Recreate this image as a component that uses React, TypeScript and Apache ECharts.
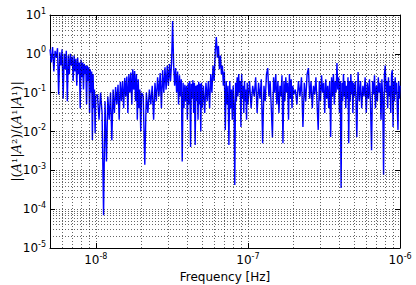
import React, { useEffect, useRef } from "react";
import * as echarts from "echarts";

// Frequencies in nHz (segments), values of |<A1|A2>/<A1|A1>|
const freqA = [5.0, 5.1, 5.2, 5.3, 5.4, 5.5, 5.6, 5.7, 5.8, 5.9, 6.0, 6.1, 6.2, 6.3, 6.4, 6.5, 6.6, 6.7, 6.8, 6.9, 7.0, 7.1, 7.2, 7.3, 7.4, 7.5, 7.6, 7.7, 7.8, 7.9, 8.0, 8.1, 8.2, 8.3, 8.4, 8.5, 8.6, 8.7, 8.8, 8.9, 9.0, 9.1, 9.2, 9.3, 9.4, 9.5, 9.6, 9.7, 9.8, 9.9, 10.0];
const valA = [1.3, 0.6, 1.5, 0.35, 1.2, 0.8, 1.4, 0.09, 1.1, 0.5, 1.3, 0.07, 1.0, 0.4, 1.2, 0.06, 0.9, 0.3, 1.0, 0.5, 0.85, 0.2, 0.9, 0.35, 0.75, 0.15, 0.8, 0.3, 0.6, 0.04, 0.7, 0.25, 0.6, 0.12, 0.55, 0.3, 0.5, 0.05, 0.5, 0.2, 0.45, 0.03, 0.4, 0.1, 0.35, 0.006, 0.3, 0.04, 0.12, 0.009, 0.08];

const freqB = [10.25, 10.5, 10.75, 11, 11.25, 11.5, 11.75, 12, 12.25, 12.5, 12.75, 13, 13.25, 13.5, 13.75, 14, 14.25, 14.5, 14.75, 15, 15.25, 15.5, 15.75, 16, 16.25, 16.5, 16.75, 17, 17.25, 17.5, 17.75, 18, 18.25, 18.5, 18.75, 19, 19.25, 19.5, 19.75, 20];
const valB = [0.09, 0.02, 0.1, 0.03, 0.00007, 0.06, 0.0017, 0.08, 0.02, 0.1, 0.006, 0.12, 0.03, 0.14, 0.05, 0.16, 0.02, 0.19, 0.06, 0.2, 0.04, 0.24, 0.08, 0.26, 0.03, 0.3, 0.1, 0.33, 0.05, 0.4, 0.12, 0.36, 0.06, 0.3, 0.02, 0.22, 0.04, 0.12, 0.01, 0.1];

const freqC = [20.5, 21, 21.5, 22, 22.5, 23, 23.5, 24, 24.5, 25, 25.5, 26, 26.5, 27, 27.5, 28, 28.5, 29, 29.5, 30, 30.5, 31, 31.5, 32, 32.5, 33, 33.5, 34, 34.5, 35, 35.5, 36, 36.5, 37, 37.5, 38, 38.5, 39, 39.5, 40, 40.5, 41, 41.5, 42, 42.5, 43, 43.5, 44, 44.5, 45, 45.5, 46, 46.5, 47, 47.5, 48, 48.5, 49, 49.5, 50];
const valC = [0.08, 0.0014, 0.1, 0.03, 0.12, 0.05, 0.15, 0.02, 0.18, 0.06, 0.25, 0.08, 0.32, 0.04, 0.38, 0.1, 0.45, 0.12, 0.5, 0.15, 0.55, 0.2, 0.6, 7.0, 0.5, 0.15, 0.43, 0.1, 0.35, 0.05, 0.28, 0.08, 0.22, 0.0017, 0.18, 0.04, 0.16, 0.06, 0.15, 0.02, 0.18, 0.05, 0.2, 0.004, 0.17, 0.07, 0.21, 0.03, 0.18, 0.0045, 0.15, 0.06, 0.16, 0.02, 0.19, 0.05, 0.17, 0.01, 0.18, 0.04];

const freqD = [51, 52, 53, 54, 55, 56, 57, 58, 59, 60, 61, 62, 63, 64, 65, 66, 67, 68, 69, 70, 71, 72, 73, 74, 75, 76, 77, 78, 79, 80, 81, 82, 83, 84, 85, 86, 87, 88, 89, 90, 91, 92, 93, 94, 95, 96, 97, 98, 99, 100];
const valD = [0.15, 0.03, 0.18, 0.06, 0.2, 0.04, 0.3, 0.1, 0.5, 0.2, 1.2, 2.7, 0.8, 1.6, 0.4, 0.9, 0.3, 0.5, 0.15, 0.35, 0.011, 0.2, 0.05, 0.15, 0.0045, 0.2, 0.04, 0.12, 0.02, 0.15, 0.05, 0.00042, 0.18, 0.06, 0.25, 0.08, 0.3, 0.1, 0.2, 0.013, 0.3, 0.07, 0.15, 0.03, 0.2, 0.06, 0.12, 0.02, 0.18, 0.05];

const freqE = [102.5, 105, 107.5, 110, 112.5, 115, 117.5, 120, 122.5, 125, 127.5, 130, 132.5, 135, 137.5, 140, 142.5, 145, 147.5, 150, 152.5, 155, 157.5, 160, 162.5, 165, 167.5, 170, 172.5, 175, 177.5, 180, 182.5, 185, 187.5, 190, 192.5, 195, 197.5, 200];
const valE = [0.2, 0.04, 0.15, 0.08, 0.25, 0.03, 0.18, 0.07, 0.22, 0.005, 0.15, 0.06, 0.3, 0.43, 0.08, 0.2, 0.04, 0.007, 0.25, 0.1, 0.3, 0.05, 0.2, 0.03, 0.15, 0.08, 0.28, 0.005, 0.2, 0.06, 0.25, 0.1, 0.18, 0.02, 0.3, 0.07, 0.22, 0.04, 0.15, 0.09];

const freqF = [205, 210, 215, 220, 225, 230, 235, 240, 245, 250, 255, 260, 265, 270, 275, 280, 285, 290, 295, 300, 305, 310, 315, 320, 325, 330, 335, 340, 345, 350, 355, 360, 365, 370, 375, 380, 385, 390, 395, 400, 405, 410, 415, 420, 425, 430, 435, 440, 445, 450, 455, 460, 465, 470, 475, 480, 485, 490, 495, 500];
const valF = [0.12, 0.05, 0.2, 0.08, 0.25, 0.013, 0.18, 0.06, 0.3, 0.43, 0.07, 0.2, 0.04, 0.15, 0.09, 0.25, 0.05, 0.011, 0.2, 0.06, 0.28, 0.1, 0.18, 0.03, 0.22, 0.07, 0.15, 0.04, 0.2, 0.0072, 0.25, 0.08, 0.3, 0.05, 0.2, 0.1, 0.58, 0.12, 0.25, 0.03, 0.2, 0.00035, 0.18, 0.06, 0.3, 0.08, 0.2, 0.04, 0.15, 0.07, 0.25, 0.005, 0.2, 0.06, 0.3, 0.09, 0.2, 0.03, 0.18, 0.08];

const freqG = [510, 520, 530, 540, 550, 560, 570, 580, 590, 600, 610, 620, 630, 640, 650, 660, 670, 680, 690, 700, 710, 720, 730, 740, 750, 760, 770, 780, 790, 800, 810, 820, 830, 840, 850, 860, 870, 880, 890, 900, 910, 920, 930, 940, 950, 960, 970, 980, 990, 1000];
const valG = [0.2, 0.0072, 0.34, 0.06, 0.2, 0.04, 0.15, 0.08, 0.25, 0.03, 0.18, 0.07, 0.22, 0.05, 0.0033, 0.2, 0.09, 0.28, 0.04, 0.15, 0.06, 0.25, 0.1, 0.18, 0.02, 0.22, 0.07, 0.00077, 0.3, 0.5, 0.1, 0.2, 0.04, 0.25, 0.08, 0.15, 0.03, 0.3, 0.38, 0.013, 0.2, 0.06, 0.25, 0.09, 0.18, 0.04, 0.011, 0.2, 0.07, 0.15];

// Axis ranges and grid-line decades
const xMin = 5e-9;
const xMax = 1e-6;
const yMin = 1e-5;
const yMax = 10;
const gridMantissas = [1, 2, 3, 4, 5, 6, 7, 8, 9];
const xGridExponents = [-9, -8, -7];
const yGridExponents = [-5, -4, -3, -2, -1, 0];

const NANO = 1e-9;

export default function App() {
  const ref = useRef<HTMLDivElement>(null);

  useEffect(() => {
    if (!ref.current) return;
    const chart = echarts.init(ref.current, null, { renderer: "svg" });

    const freqs = [...freqA, ...freqB, ...freqC, ...freqD, ...freqE, ...freqF, ...freqG];
    const vals = [...valA, ...valB, ...valC, ...valD, ...valE, ...valF, ...valG];
    const mainData = freqs.map((f, i) => [f * NANO, vals[i]]);

    const xGrid: number[] = [];
    xGridExponents.forEach((e) =>
      gridMantissas.forEach((m) => {
        const v = m * Math.pow(10, e);
        if (v > xMin * 1.0001 && v < xMax * 0.9999) xGrid.push(v);
      })
    );
    const yGrid: number[] = [];
    yGridExponents.forEach((e) =>
      gridMantissas.forEach((m) => {
        const v = m * Math.pow(10, e);
        if (v > yMin * 1.0001 && v < yMax * 0.9999) yGrid.push(v);
      })
    );

    const rich = {
      b: { fontSize: 12, fontFamily: "DejaVu Sans", color: "#000" },
      s: { fontSize: 8, fontFamily: "DejaVu Sans", color: "#000", padding: [0, 0, 8, 0] },
    };
    const fmt = (v: number) => {
      const e = Math.log10(v);
      const r = Math.round(e);
      if (Math.abs(e - r) > 1e-6) return "";
      return `{b|10}{s|${r}}`;
    };

    const frameLine = { show: true, onZero: false, lineStyle: { color: "#000", width: 1 } };
    const tick = { show: true, inside: true, length: 5, lineStyle: { color: "#000", width: 1 } };

    const option: any = {
      animation: false,
      backgroundColor: "#fff",
      grid: { left: 50, right: 16, top: 15, bottom: 37, containLabel: false, outerBoundsMode: "none" },
      xAxis: [
        {
          type: "log",
          logBase: 10,
          min: xMin,
          max: xMax,
          position: "bottom",
          axisLine: frameLine,
          axisTick: tick,
          axisLabel: { formatter: fmt, rich, margin: 4, color: "#000" },
          splitLine: { show: false },
          name: "Frequency [Hz]",
          nameLocation: "middle",
          nameGap: 15,
          nameTextStyle: { fontFamily: "DejaVu Sans", fontSize: 12, color: "#000", verticalAlign: "top" },
        },
        {
          type: "log",
          logBase: 10,
          min: xMin,
          max: xMax,
          position: "top",
          axisLine: frameLine,
          axisTick: tick,
          axisLabel: { show: false },
          splitLine: { show: false },
        },
      ],
      yAxis: [
        {
          type: "log",
          logBase: 10,
          min: yMin,
          max: yMax,
          position: "left",
          axisLine: frameLine,
          axisTick: tick,
          axisLabel: { formatter: fmt, rich, margin: 4, color: "#000" },
          splitLine: { show: false },
          name: "{n||(}{a|A}{n|¹|}{a|A}{n|²)/(}{a|A}{n|¹|}{a|A}{n|¹)|}",
          nameLocation: "middle",
          nameRotate: 90,
          nameGap: 27,
          nameMoveOverlap: false,
          nameTextStyle: {
            color: "#000",
            rich: {
              n: { fontFamily: "DejaVu Serif", fontSize: 13, color: "#000" },
              a: { fontFamily: "DejaVu Serif", fontStyle: "italic", fontSize: 13, color: "#000" },
            },
          },
        },
        {
          type: "log",
          logBase: 10,
          min: yMin,
          max: yMax,
          position: "right",
          axisLine: frameLine,
          axisTick: tick,
          axisLabel: { show: false },
          splitLine: { show: false },
        },
      ],
      series: [
        {
          type: "line",
          xAxisIndex: 0,
          yAxisIndex: 0,
          data: [[1e-7, 1]],
          showSymbol: false,
          symbol: "none",
          silent: true,
          lineStyle: { opacity: 0 },
          z: 1,
          markLine: {
            silent: true,
            precision: 20,
            symbol: ["none", "none"],
            label: { show: false },
            animation: false,
            emphasis: { disabled: true },
            lineStyle: { color: "#000", type: [1, 2], width: 1, opacity: 0.6 },
            data: [...xGrid.map((v) => ({ xAxis: v })), ...yGrid.map((v) => ({ yAxis: v }))],
          },
        },
        {
          type: "line",
          xAxisIndex: 0,
          yAxisIndex: 0,
          data: mainData,
          showSymbol: false,
          symbol: "none",
          lineStyle: { color: "#0000ff", width: 1.4 },
          z: 2,
        },
      ],
    };

    chart.setOption(option);
    return () => chart.dispose();
  }, []);

  return (
    <div
      ref={ref}
      style={{ position: "fixed", left: 0, top: 0, width: 416, height: 285, background: "#fff" }}
    />
  );
}
